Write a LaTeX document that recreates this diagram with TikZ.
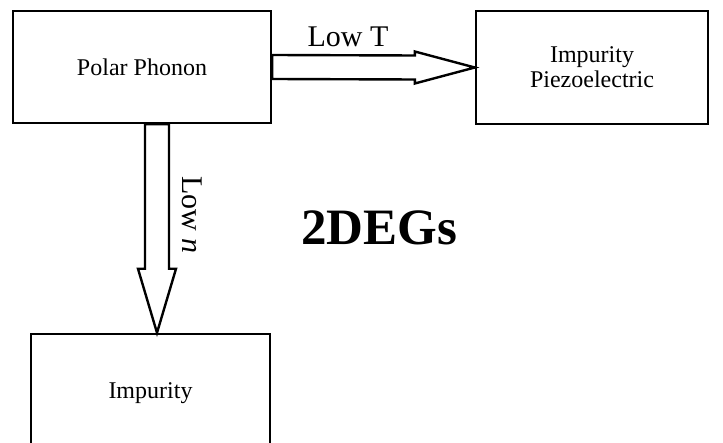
\documentclass[tikz,border=0pt]{standalone}
\usepackage{fontspec}
\setmainfont{Liberation Serif}
\usetikzlibrary{calc}

\begin{document}
\begin{tikzpicture}[x=1pt, y=-1pt, line width=2.4pt,
  box/.style={draw, rectangle, align=center, font=\fontsize{24}{25}\selectfont},
  lbl/.style={font=\fontsize{30}{32}\selectfont, inner sep=0pt}]
  \useasboundingbox (0,0) rectangle (723,443);
  \clip (0,0) rectangle (723,443);
  \node[box, minimum width=258pt, minimum height=112pt] (phonon) at (142,67) {Polar Phonon};
  \node[box, minimum width=232pt, minimum height=113pt] (piezo) at (592,67.5) {Impurity\\ Piezoelectric};
  % bottom box runs off the lower edge
  \node[box, minimum width=239pt, minimum height=118pt] (impurity) at (150.5,393) {Impurity};
  % hollow block arrows
  \draw ($(phonon.east)+(0,-12)$) -- ($(piezo.west)+(-60,-12)$) -- ($(piezo.west)+(-60,-16)$)
    -- (piezo.west) -- ($(piezo.west)+(-60,16)$) -- ($(piezo.west)+(-60,12)$)
    -- ($(phonon.east)+(0,12)$) -- cycle;
  \coordinate (dn) at ($(phonon.south)+(15,0)$);
  \draw ($(dn)+(-12,0)$) -- ($(dn |- impurity.north)+(-12,-64)$) -- ++(-7,0)
    -- (dn |- impurity.north) -- ($(dn |- impurity.north)+(19,-64)$) -- ++(-7,0)
    -- ($(dn)+(12,0)$) -- cycle;
  \node[lbl, anchor=base] (lowt) at (348,47) {Low T};
  \node[lbl, rotate=-90, anchor=base] (lown) at (182,215) {Low \textit{n}};
  \node[font=\fontsize{51}{53}\selectfont\bfseries] (gas) at (379,228) {2DEGs};
\end{tikzpicture}
\end{document}
